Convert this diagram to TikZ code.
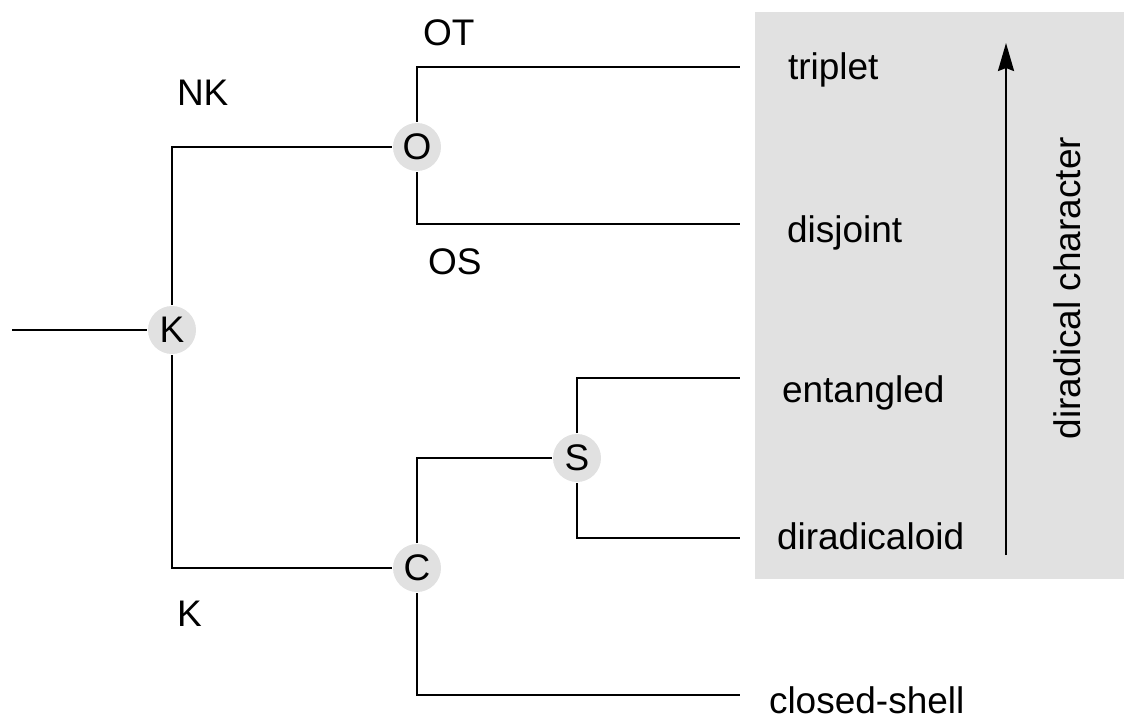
\documentclass[tikz,border=0pt]{standalone}
\usepackage{fontspec}
\setmainfont{Liberation Sans}
\usepackage{xcolor}
\usetikzlibrary{arrows.meta}
\definecolor{panel}{HTML}{E1E1E1}
\definecolor{ink}{HTML}{000000}

\begin{document}
\begin{tikzpicture}[
  x=0.5pt,y=-0.5pt,
  font=\fontsize{18.5pt}{22pt}\selectfont,
  line width=1pt,
  hub/.style={circle,fill=panel,minimum size=24pt,inner sep=0pt},
  leaf/.style={anchor=base west,inner sep=0pt},
  lbl/.style={anchor=base west,inner sep=0pt},
  arr/.style={-{Stealth[length=14pt,width=8pt,inset=1.5pt]},line width=1.2pt,draw=ink}]
  \useasboundingbox (0,0) rectangle (1124,717);
  \fill[panel] (755,12) rectangle (1124,579);

  % branch points
  \node[hub] (K) at (172,330) {K};
  \node[hub] (O) at (417,147) {O};
  \node[hub] (C) at (417,568) {C};
  \node[hub] (S) at (577,458) {S};

  % leaves
  \coordinate (start) at (12,330);
  \coordinate (tT) at (740,67);
  \coordinate (tD) at (740,224);
  \coordinate (tE) at (740,378);
  \coordinate (tR) at (740,538);
  \coordinate (tC) at (740,695);
  \node[leaf] (triplet) at (787,80) {triplet};
  \node[leaf] (disjoint) at (786,242) {disjoint};
  \node[leaf] (entangled) at (781,402) {entangled};
  \node[leaf] (diradicaloid) at (776,549) {diradicaloid};
  \node[leaf] (closed) at (768,713) {closed-shell};

  % branch labels
  \node[lbl] (NK) at (176,105) {NK};
  \node[lbl] (Kl) at (176,626) {K};
  \node[lbl] (OT) at (422,46) {OT};
  \node[lbl] (OS) at (427,274) {OS};

  \draw (start) -- (K);
  \draw (K) |- (O);
  \draw (K) |- (C);
  \draw (O) |- (tT);
  \draw (O) |- (tD);
  \draw (C) |- (S);
  \draw (C) |- (tC);
  \draw (S) |- (tE);
  \draw (S) |- (tR);

  % axis
  \coordinate (lo) at (1006,555);
  \coordinate (hi) at (1006,43);
  \draw[arr] (lo) -- (hi);
  \node[rotate=90,anchor=base,inner sep=0pt] (axis) at (1080,288) {diradical character};
\end{tikzpicture}
\end{document}
